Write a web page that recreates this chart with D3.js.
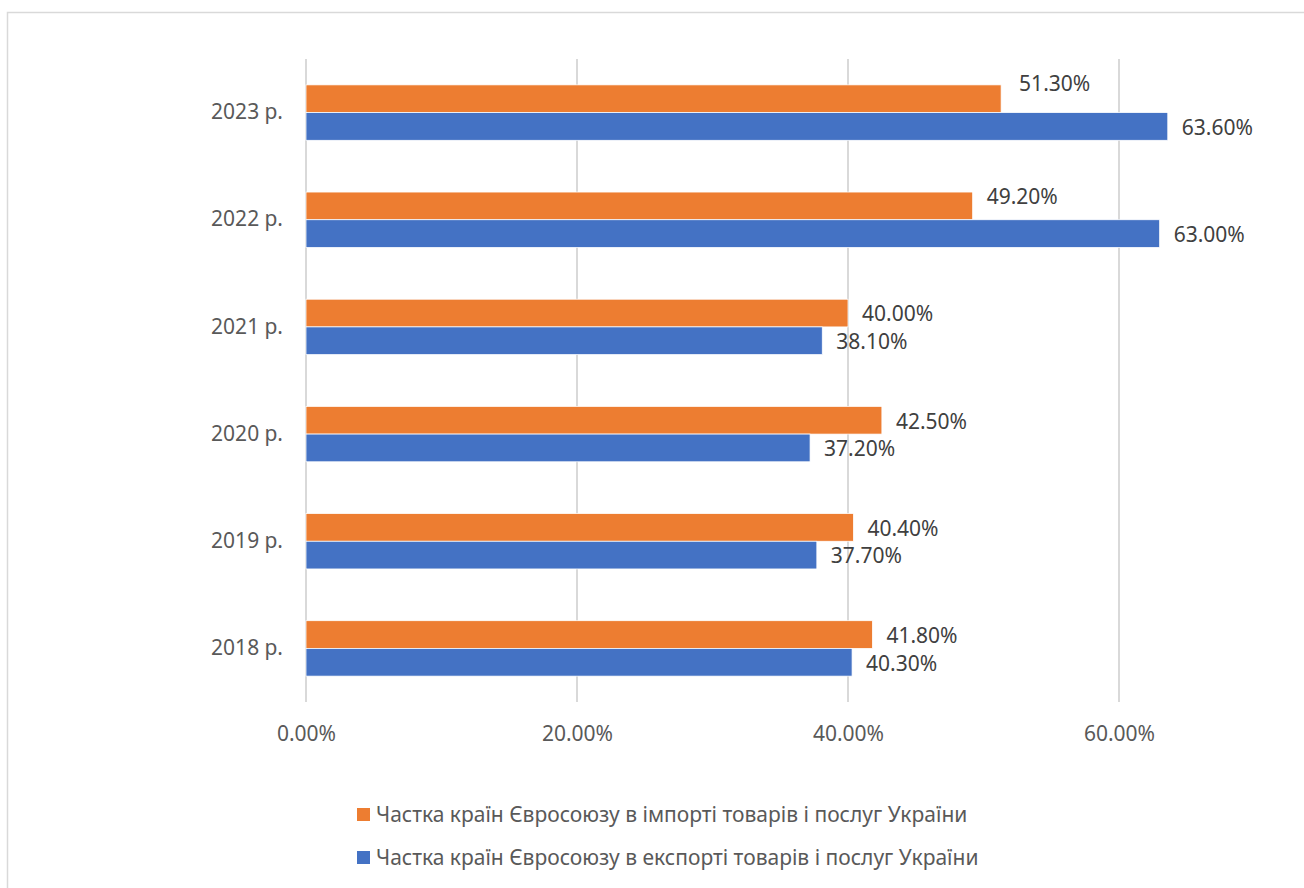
<!DOCTYPE html>
<html>
<head>
<meta charset="utf-8">
<script src="https://cdn.jsdelivr.net/npm/d3@7"></script>
<style>
  body { margin: 0; background: #fff; }
  text { font-family: "Noto Sans", "Open Sans", sans-serif; }
</style>
</head>
<body>
<div id="chart"></div>
<script>
// data
var years = ["2023 р.", "2022 р.", "2021 р.", "2020 р.", "2019 р.", "2018 р."];
var importShare = [51.3, 49.2, 40.0, 42.5, 40.4, 41.8];
var exportShare = [63.6, 63.0, 38.1, 37.2, 37.7, 40.3];
var xTicks = [0, 20, 40, 60];
var seriesNames = [
  "Частка країн Євросоюзу в імпорті товарів і послуг України",
  "Частка країн Євросоюзу в експорті товарів і послуг України"
];
var colors = ["#ED7D31", "#4472C4"];

// a couple of labels were dragged a bit in the original
var labelNudgeY = [[-16, -10, 0, 0, 0, 0], [0, 0, 0, 0, 0, 0]];
var labelNudgeX = [[4, 0, 0, 0, 0, 0], [0, 0, 0, 0, 0, 0]];

var svgWidth = 1304;
var svgHeight = 888;
var fontSize = 21;

var margin = { top: 59, left: 306, bottom: 186, right: 50 };
var height = svgHeight - margin.top - margin.bottom;

var svg = d3.select("#chart").append("svg")
  .attr("width", svgWidth)
  .attr("height", svgHeight);

// outer chart border (runs off the picture on right/bottom)
svg.append("rect")
  .attr("x", 7.5).attr("y", 12.5)
  .attr("width", svgWidth + 20).attr("height", svgHeight + 20)
  .attr("fill", "none")
  .attr("stroke", "#d9d9d9")
  .attr("stroke-width", 1.5);

var x = d3.scaleLinear().domain([0, 70]).range([0, 948.5]);

var y = d3.scaleBand().domain(years).range([0, height]).paddingInner(0.483).paddingOuter(0.2415);
var ySub = d3.scaleBand().domain([0, 1]).range([0, y.bandwidth()]);

var chartGroup = svg.append("g")
  .attr("transform", `translate(${margin.left}, ${margin.top})`);

// gridlines
chartGroup.selectAll(".grid")
  .data(xTicks)
  .enter()
  .append("line")
  .attr("x1", d => x(d)).attr("x2", d => x(d))
  .attr("y1", 0).attr("y2", height)
  .attr("stroke", "#d9d9d9")
  .attr("stroke-width", 2);

// x axis labels
var bottomAxis = d3.axisBottom(x)
  .tickValues(xTicks)
  .tickSize(0)
  .tickPadding(24)
  .tickFormat(d => d.toFixed(2) + "%");

var xAxis = chartGroup.append("g")
  .attr("transform", `translate(0, ${height})`)
  .call(bottomAxis);
xAxis.select(".domain").remove();
xAxis.attr("font-size", null).attr("font-family", null);
xAxis.selectAll("text")
  .attr("fill", "#595959")
  .attr("font-size", fontSize);

// y axis labels
var leftAxis = d3.axisLeft(y).tickSize(0).tickPadding(23);
var yAxis = chartGroup.append("g").call(leftAxis);
yAxis.select(".domain").remove();
yAxis.attr("font-size", null).attr("font-family", null);
yAxis.selectAll("text")
  .attr("fill", "#595959")
  .attr("font-size", fontSize);

var allSeries = [importShare, exportShare];

allSeries.forEach(function(vals, si) {
  var g = chartGroup.append("g");
  g.selectAll("rect")
    .data(vals)
    .enter()
    .append("rect")
    .attr("x", 0)
    .attr("y", (d, i) => y(years[i]) + ySub(si))
    .attr("width", d => x(d))
    .attr("height", ySub.bandwidth())
    .attr("fill", colors[si])
    .attr("stroke", "#fff")
    .attr("stroke-width", 0.75);

  g.selectAll("text")
    .data(vals)
    .enter()
    .append("text")
    .attr("x", (d, i) => x(d) + 14 + labelNudgeX[si][i])
    .attr("y", (d, i) => y(years[i]) + ySub(si) + ySub.bandwidth() / 2 + 1 + labelNudgeY[si][i])
    .attr("dy", "0.35em")
    .attr("fill", "#404040")
    .attr("font-size", fontSize)
    .text(d => d.toFixed(2) + "%");
});

// legend
var legend = svg.append("g");
seriesNames.forEach(function(name, i) {
  var ly = 815 + i * 43;
  legend.append("rect")
    .attr("x", 357).attr("y", ly - 7)
    .attr("width", 13).attr("height", 13)
    .attr("fill", colors[i]);
  legend.append("text")
    .attr("x", 376).attr("y", ly)
    .attr("dy", "0.35em")
    .attr("fill", "#595959")
    .attr("font-size", fontSize)
    .text(name);
});
</script>
</body>
</html>
